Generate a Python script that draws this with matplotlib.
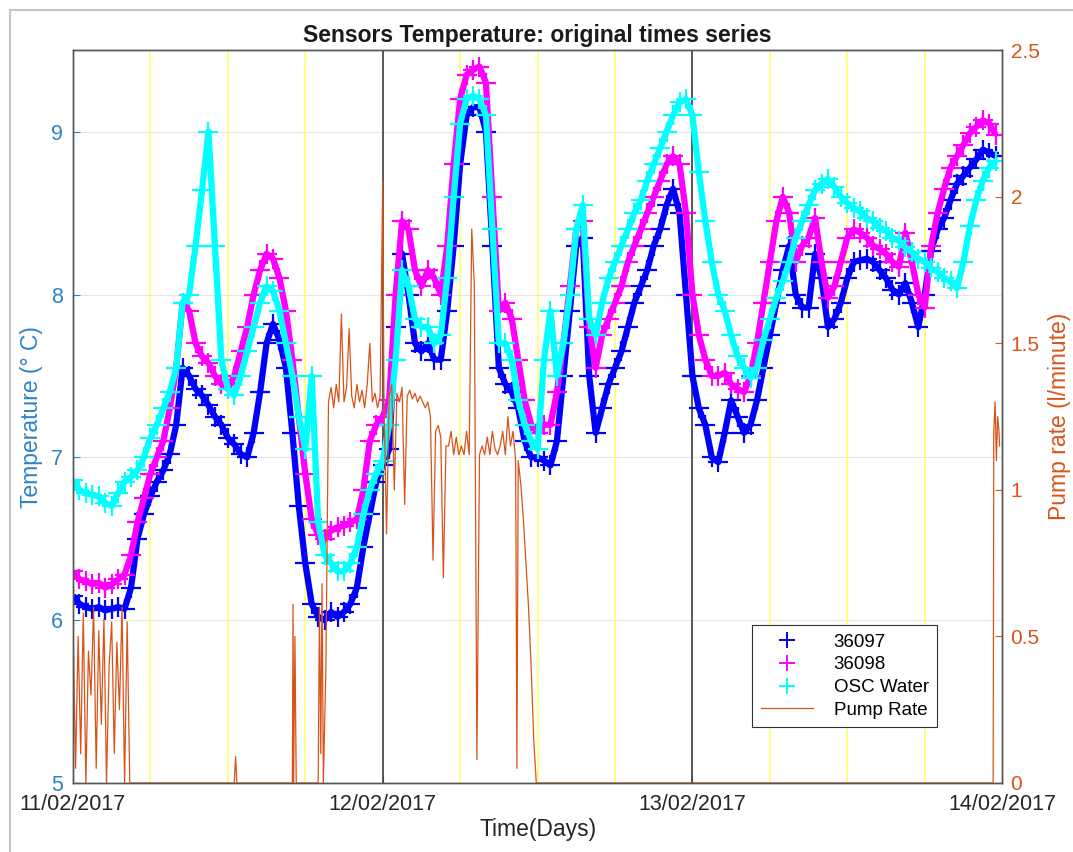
"""
Sensors temperature (two loggers + OSC water) with pump rate on a second axis,
11/02/2017 - 14/02/2017. MATLAB-style yyaxis look.
"""

import numpy as np
import matplotlib
matplotlib.use("Agg")
import matplotlib.pyplot as plt
from matplotlib.lines import Line2D

plt.rcParams['font.family'] = ['Liberation Sans', 'DejaVu Sans']

# ============================================
# Data (hours since 11/02/2017 00:00, half-hourly readings)
# ============================================
hours = np.arange(0, 72, 0.5)

temp_36097 = [6.15, 6.1, 6.08, 6.07, 6.08, 6.06, 6.07, 6.08, 6.07,
              6.2, 6.5, 6.65, 6.76, 6.85, 6.92, 7.02, 7.2,
              7.55, 7.5, 7.42, 7.38, 7.32, 7.25, 7.2, 7.12,
              7.08, 7.02, 7.0, 7.15, 7.4, 7.7, 7.82, 7.72,
              7.55, 7.15, 6.7, 6.35, 6.1, 6.02, 6.0, 6.05,
              6.02, 6.05, 6.1, 6.2, 6.45, 6.65, 6.85, 6.95,
              7.05, 7.8, 8.25, 8.0, 7.7, 7.65, 7.7, 7.6,
              7.6, 7.9, 8.3, 8.8, 9.1, 9.15, 9.15, 9.0,
              8.3, 7.55, 7.45, 7.4, 7.3, 7.1, 7.0, 7.0,
              6.98, 6.95, 7.1, 7.5, 7.9, 8.3, 8.35, 7.5,
              7.15, 7.3, 7.45, 7.55, 7.65, 7.8, 7.95, 8.05,
              8.15, 8.3, 8.4, 8.55, 8.65, 8.5, 8.0, 7.5,
              7.3, 7.2, 7.0, 6.97, 7.15, 7.35, 7.25, 7.15,
              7.2, 7.35, 7.55, 7.75, 7.95, 8.15, 8.3, 8.0,
              7.92, 7.92, 8.25, 8.1, 7.8, 7.85, 7.95, 8.1,
              8.2, 8.21, 8.22, 8.2, 8.15, 8.1, 8.03, 8.0,
              8.07, 7.95, 7.8, 8.0, 8.27, 8.4, 8.47, 8.58,
              8.68, 8.73, 8.78, 8.83, 8.89, 8.87, 8.85]

temp_36098 = [6.3, 6.25, 6.24, 6.22, 6.23, 6.2, 6.22, 6.25, 6.28,
              6.4, 6.6, 6.75, 6.9, 7.0, 7.1, 7.3, 7.55,
              7.95, 7.9, 7.7, 7.62, 7.58, 7.5, 7.45, 7.42,
              7.5, 7.65, 7.8, 8.0, 8.15, 8.25, 8.22, 8.1,
              7.9, 7.6, 7.25, 6.9, 6.62, 6.52, 6.5, 6.55,
              6.57, 6.58, 6.6, 6.62, 6.8, 7.1, 7.2, 7.25,
              7.35, 8.0, 8.45, 8.4, 8.15, 8.05, 8.15, 8.1,
              8.0, 8.3, 8.8, 9.2, 9.35, 9.38, 9.4, 9.3,
              8.6, 7.9, 7.95, 7.85, 7.6, 7.35, 7.2, 7.15,
              7.2, 7.2, 7.4, 7.7, 8.05, 8.4, 8.45, 7.8,
              7.55, 7.75, 7.85, 7.95, 8.05, 8.2, 8.3, 8.4,
              8.5, 8.6, 8.7, 8.8, 8.85, 8.8, 8.5, 8.0,
              7.75, 7.6, 7.5, 7.5, 7.52, 7.45, 7.42, 7.4,
              7.5, 7.7, 7.95, 8.2, 8.45, 8.6, 8.5, 8.2,
              8.3, 8.35, 8.47, 8.2, 7.98, 8.05, 8.2, 8.35,
              8.4, 8.38, 8.35, 8.3, 8.28, 8.25, 8.2, 8.17,
              8.38, 8.2, 8.0, 7.92, 8.3, 8.5, 8.65, 8.78,
              8.85, 8.92, 8.99, 9.03, 9.07, 9.05, 8.98]

temp_osc = [6.86, 6.8, 6.78, 6.77, 6.76, 6.72, 6.7, 6.78, 6.85,
            6.88, 6.92, 7.0, 7.12, 7.2, 7.3, 7.4, 7.55,
            7.95, 8.0, 8.3, 8.64, 9.0, 8.3, 7.6, 7.42,
            7.38, 7.5, 7.65, 7.8, 7.95, 8.05, 8.02, 7.9,
            7.7, 7.5, 7.25, 7.05, 7.5, 6.6, 6.4, 6.35,
            6.3, 6.3, 6.35, 6.45, 6.65, 6.8, 6.9, 6.98,
            7.2, 7.6, 8.15, 8.05, 7.85, 7.8, 7.8, 7.7,
            7.75, 8.1, 8.6, 9.05, 9.2, 9.22, 9.2, 9.1,
            8.4, 7.7, 7.7, 7.6, 7.35, 7.2, 7.1, 7.05,
            7.6, 7.9, 7.5, 7.7, 8.0, 8.4, 8.55, 7.85,
            7.75, 7.95, 8.1, 8.2, 8.3, 8.4, 8.5, 8.58,
            8.7, 8.8, 8.9, 9.0, 9.1, 9.18, 9.2, 9.1,
            8.75, 8.45, 8.2, 8.0, 7.9, 7.75, 7.62, 7.55,
            7.49, 7.55, 7.72, 7.85, 7.98, 8.08, 8.2, 8.35,
            8.45, 8.55, 8.64, 8.68, 8.71, 8.66, 8.6, 8.56,
            8.53, 8.51, 8.47, 8.45, 8.41, 8.39, 8.35, 8.33,
            8.29, 8.26, 8.22, 8.2, 8.16, 8.14, 8.1, 8.08,
            8.04, 8.2, 8.42, 8.58, 8.7, 8.78, 8.82]

pump_hours = [0.0, 0.2, 0.4, 0.6, 0.8, 1.0, 1.2, 1.4, 1.6, 1.8, 2.0, 2.2, 2.4,
              2.6, 2.8, 3.0, 3.2, 3.4, 3.6, 3.8, 4.0, 4.2, 4.4,
              12.5, 12.6, 12.7, 17.0, 17.05, 17.1, 17.2, 17.3,
              19.0, 19.1, 19.2, 19.3, 19.4, 19.6, 19.8,
              20.0, 20.2, 20.4, 20.6, 20.8, 21.0, 21.2, 21.4, 21.6, 21.8,
              22.0, 22.2, 22.4, 22.6, 22.8, 23.0, 23.2, 23.4, 23.6, 23.8,
              24.0, 24.1, 24.3, 24.5, 24.7, 24.9, 25.1, 25.3, 25.5, 25.7, 25.9,
              26.1, 26.3, 26.5, 26.7, 26.9, 27.1, 27.3, 27.5, 27.7, 27.9,
              28.1, 28.3, 28.5, 28.7, 28.9, 29.1, 29.3, 29.5, 29.7, 29.9,
              30.1, 30.3, 30.5, 30.7, 30.9, 31.1, 31.3, 31.5, 31.7, 31.9,
              32.1, 32.3, 32.5, 32.7, 32.9, 33.1, 33.3, 33.5, 33.7, 33.9,
              34.1, 34.3, 34.4, 34.5, 34.7, 34.9, 35.1, 35.3, 35.5, 35.7, 35.9,
              71.3, 71.35, 71.45, 71.55, 71.65, 71.75, 71.8]

pump_rate = [0.55, 0.05, 0.5, 0.1, 0.58, 0.0, 0.45, 0.3, 0.6, 0.05, 0.52, 0.2, 0.56,
             0.0, 0.4, 0.55, 0.1, 0.48, 0.25, 0.6, 0.0, 0.55, 0.0,
             0.0, 0.09, 0.0, 0.0, 0.61, 0.0, 0.5, 0.0,
             0.0, 0.6, 0.1, 0.68, 0.0, 0.4, 1.3,
             1.35, 1.28, 1.36, 1.3, 1.6, 1.3, 1.35, 1.55, 1.32, 1.28,
             1.36, 1.3, 1.34, 1.28, 1.36, 1.5, 1.3, 1.33, 1.28, 1.32,
             2.05, 1.3, 0.85, 1.32, 1.36, 1.0, 1.33, 1.3, 1.35, 0.95, 1.32,
             1.34, 1.31, 1.33, 1.3, 1.32, 1.3, 1.28, 1.3, 1.25, 0.76,
             1.2, 1.22, 1.18, 0.7, 1.15, 1.15, 1.2, 1.12, 1.18, 1.12,
             1.15, 1.12, 1.2, 1.12, 1.89, 1.7, 0.08, 1.12, 1.15, 1.12,
             1.18, 1.12, 1.2, 1.14, 1.12, 1.15, 1.2, 1.12, 1.25, 1.15,
             1.2, 1.1, 0.05, 1.1, 1.02, 0.9, 0.75, 0.6, 0.4, 0.15, 0.0,
             0.0, 1.2, 1.3, 1.1, 1.25, 1.2, 1.15]

day_ticks = [0, 24, 48, 72]
day_labels = ["11/02/2017", "12/02/2017", "13/02/2017", "14/02/2017"]
temp_ticks = [5, 6, 7, 8, 9]
pump_ticks = [0, 0.5, 1, 1.5, 2, 2.5]
pump_tick_labels = ["0", "0.5", "1", "1.5", "2", "2.5"]

# ============================================
# Colours
# ============================================
C_36097 = "#0000FF"
C_36098 = "#FF00FF"
C_OSC = "#00FFFF"
C_PUMP = "#D95319"
C_LEFT = "#2C84C6"
C_TEXT = "#262626"
C_AXIS = "#555555"

fig = plt.figure(figsize=(10.73, 8.52), dpi=100)
ax = fig.add_axes([0.068, 0.081, 0.866, 0.860])

# day (black) and 6-hourly (yellow) markers
for h in range(6, 72, 6):
    if h % 24 == 0:
        ax.axvline(h, color="#4A4A4A", lw=1.3, zorder=1)
    else:
        ax.axvline(h, color="#FFFF40", lw=1.3, alpha=0.7, zorder=1)

# temperature series: dense "+" records -> band of crosses
ms, mew, band = 14, 1.6, 4.5
for vals, c in [(temp_36097, C_36097), (temp_36098, C_36098), (temp_osc, C_OSC)]:
    ax.plot(hours, vals, '-', color=c, lw=band, solid_capstyle='butt', zorder=2)
    ax.plot(hours, vals, '+', color=c, ms=ms, mew=mew, zorder=2)

ax.set_xlim(0, 72)
ax.set_ylim(5, 9.5)
ax.set_xticks(day_ticks)
ax.set_xticklabels(day_labels)
ax.set_yticks(temp_ticks)
ax.yaxis.grid(True, color="#E6E6E6", lw=0.8)
ax.set_axisbelow(True)
ax.tick_params(axis='x', direction='in', length=5, labelsize=15.5,
               colors=C_TEXT, pad=8)
ax.tick_params(axis='y', direction='in', length=5, labelsize=15.5,
               colors=C_LEFT, pad=7)
ax.set_xlabel("Time(Days)", fontsize=16.5, color=C_TEXT, labelpad=2)
ax.set_ylabel("Temperature (° C)", fontsize=16.5, color=C_LEFT, labelpad=6)
ax.set_title("Sensors Temperature: original times series", fontsize=16.5,
             fontweight='bold', color="#1A1A1A", pad=6)

# pump rate on the right axis
ax2 = ax.twinx()
ax2.plot(pump_hours, pump_rate, color=C_PUMP, lw=0.9)
ax2.set_ylim(0, 2.5)
ax2.set_yticks(pump_ticks)
ax2.set_yticklabels(pump_tick_labels)
ax2.tick_params(axis='y', direction='in', length=5, labelsize=15,
                colors=C_PUMP, pad=6)
ax2.set_ylabel("Pump rate (l/minute)", fontsize=16.5, color=C_PUMP, labelpad=6)

for a in (ax, ax2):
    for s in a.spines.values():
        s.set_color(C_AXIS)
        s.set_linewidth(1.0)

# legend
handles = [Line2D([], [], ls='none', marker='+', color=C_36097, ms=11, mew=1.4),
           Line2D([], [], ls='none', marker='+', color=C_36098, ms=11, mew=1.4),
           Line2D([], [], ls='none', marker='+', color=C_OSC, ms=11, mew=1.4),
           Line2D([], [], color=C_PUMP, lw=0.9)]
labels = ["36097", "36098", "OSC Water", "Pump Rate"]
leg = ax2.legend(handles, labels, loc='lower left', bbox_to_anchor=(0.731, 0.076),
                 borderaxespad=0, fancybox=False, edgecolor="#333333",
                 fontsize=13.5, handlelength=2.8, handletextpad=1.1,
                 labelspacing=0.3, borderpad=0.45, framealpha=1)
leg.get_frame().set_linewidth(0.8)

# screenshot frame (left and top edges)
fig.add_artist(Line2D([0.0093, 0.0093], [0, 0.988], transform=fig.transFigure,
                      color="#C4C4C4", lw=1.5))
fig.add_artist(Line2D([0.0093, 1], [0.988, 0.988], transform=fig.transFigure,
                      color="#C4C4C4", lw=1.5))

fig.savefig("out.png", dpi=100)
